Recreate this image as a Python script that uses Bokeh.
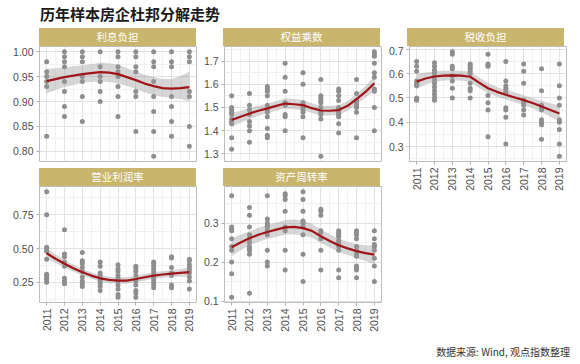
from math import pi
from bokeh.plotting import figure
from bokeh.models import Div, FixedTicker, Range1d, NumeralTickFormatter
from bokeh.layouts import column, row
from bokeh.embed import file_html
from bokeh.resources import INLINE

TITLE = "历年样本房企杜邦分解走势"
SOURCE = "数据来源: Wind, 观点指数整理"
PANEL_NAMES = ["利息负担", "权益乘数", "税收负担", "营业利润率", "资产周转率"]

YEARS = [2011, 2012, 2013, 2014, 2015, 2016, 2017, 2018, 2019]
FIT_X = [2011.0, 2011.5, 2012.0, 2012.5, 2013.0, 2013.5, 2014.0, 2014.5, 2015.0,
         2015.5, 2016.0, 2016.5, 2017.0, 2017.5, 2018.0, 2018.5, 2019.0]

# ---- 利息负担 ----
INTEREST_BURDEN = [
    [0.98, 0.96, 0.95, 0.94, 0.93, 0.83],
    [1.00, 0.99, 0.98, 0.97, 0.94, 0.92, 0.89, 0.87],
    [1.00, 0.99, 0.98, 0.95, 0.94, 0.91, 0.86],
    [1.00, 0.97, 0.95, 0.94, 0.92, 0.90],
    [1.00, 0.99, 0.97, 0.96, 0.95, 0.93, 0.91, 0.87],
    [1.00, 0.99, 0.97, 0.96, 0.92, 0.91, 0.84],
    [1.00, 0.98, 0.97, 0.94, 0.91, 0.88, 0.84, 0.79],
    [1.00, 0.98, 0.97, 0.91, 0.89, 0.86, 0.83],
    [1.00, 0.99, 0.98, 0.92, 0.91, 0.85, 0.81],
]
IB_FIT = [0.941, 0.945, 0.949, 0.952, 0.955, 0.957, 0.959, 0.958, 0.955,
          0.949, 0.943, 0.936, 0.931, 0.927, 0.926, 0.927, 0.929]
IB_LO = [0.916, 0.923, 0.929, 0.933, 0.937, 0.939, 0.940, 0.939, 0.936,
         0.931, 0.925, 0.918, 0.913, 0.909, 0.907, 0.905, 0.900]
IB_HI = [0.966, 0.967, 0.969, 0.971, 0.973, 0.975, 0.978, 0.977, 0.974,
         0.967, 0.961, 0.954, 0.949, 0.945, 0.945, 0.951, 0.960]
IB_TICKS = [0.80, 0.85, 0.90, 0.95, 1.00]
IB_MINOR = [0.775, 0.825, 0.875, 0.925, 0.975, 1.025]

# ---- 权益乘数 ----
EQUITY_MULT = [
    [1.55, 1.50, 1.49, 1.48, 1.47, 1.45, 1.44, 1.43, 1.37, 1.32],
    [1.56, 1.51, 1.49, 1.47, 1.44, 1.42, 1.40, 1.35],
    [1.59, 1.58, 1.57, 1.55, 1.51, 1.49, 1.48, 1.46, 1.41, 1.38, 1.37],
    [1.69, 1.63, 1.57, 1.52, 1.51, 1.47, 1.46, 1.40],
    [1.65, 1.60, 1.52, 1.51, 1.50, 1.49, 1.48, 1.46, 1.37],
    [1.62, 1.55, 1.54, 1.53, 1.52, 1.50, 1.48, 1.47, 1.45, 1.29],
    [1.58, 1.57, 1.55, 1.53, 1.50, 1.49, 1.48, 1.47, 1.46, 1.43, 1.39],
    [1.62, 1.56, 1.53, 1.52, 1.51, 1.50, 1.48, 1.37],
    [1.74, 1.73, 1.72, 1.69, 1.65, 1.63, 1.58, 1.57, 1.50, 1.40],
]
EM_FIT = [1.446, 1.460, 1.474, 1.486, 1.496, 1.507, 1.517, 1.514, 1.510,
          1.497, 1.487, 1.486, 1.489, 1.507, 1.536, 1.567, 1.604]
EM_LO = [1.416, 1.434, 1.450, 1.464, 1.475, 1.486, 1.495, 1.492, 1.488,
         1.476, 1.466, 1.465, 1.468, 1.486, 1.514, 1.542, 1.572]
EM_HI = [1.476, 1.486, 1.498, 1.508, 1.517, 1.528, 1.539, 1.536, 1.532,
         1.518, 1.508, 1.507, 1.510, 1.528, 1.558, 1.592, 1.636]
EM_TICKS = [1.3, 1.4, 1.5, 1.6, 1.7]
EM_MINOR = [1.25, 1.35, 1.45, 1.55, 1.65, 1.75]

# ---- 税收负担 ----
TAX_BURDEN = [
    [0.65, 0.63, 0.61, 0.57, 0.56, 0.555, 0.55, 0.50, 0.495, 0.49],
    [0.645, 0.63, 0.615, 0.605, 0.59, 0.575, 0.56, 0.545, 0.53, 0.515, 0.50, 0.49],
    [0.69, 0.68, 0.63, 0.62, 0.59, 0.57, 0.54, 0.50],
    [0.64, 0.635, 0.625, 0.62, 0.61, 0.60, 0.56, 0.54, 0.53, 0.50],
    [0.68, 0.64, 0.635, 0.63, 0.51, 0.48, 0.45, 0.34],
    [0.65, 0.57, 0.55, 0.54, 0.53, 0.52, 0.46, 0.45, 0.42, 0.31],
    [0.64, 0.61, 0.56, 0.49, 0.48, 0.47, 0.45, 0.43],
    [0.62, 0.53, 0.47, 0.46, 0.45, 0.41, 0.40, 0.39, 0.33],
    [0.64, 0.55, 0.50, 0.47, 0.41, 0.40, 0.37, 0.31, 0.26],
]
TB_FIT = [0.567, 0.580, 0.588, 0.592, 0.593, 0.592, 0.587, 0.563, 0.540,
          0.525, 0.513, 0.502, 0.491, 0.479, 0.465, 0.450, 0.436]
TB_LO = [0.537, 0.555, 0.566, 0.572, 0.573, 0.572, 0.566, 0.542, 0.519,
         0.505, 0.493, 0.482, 0.471, 0.458, 0.442, 0.423, 0.403]
TB_HI = [0.597, 0.605, 0.610, 0.612, 0.613, 0.612, 0.608, 0.584, 0.561,
         0.545, 0.533, 0.522, 0.511, 0.500, 0.488, 0.477, 0.469]
TB_TICKS = [0.3, 0.4, 0.5, 0.6, 0.7]
TB_MINOR = [0.25, 0.35, 0.45, 0.55, 0.65, 0.75]

# ---- 营业利润率 ----
OP_MARGIN = [
    [0.92, 0.75, 0.51, 0.50, 0.48, 0.42, 0.31, 0.30, 0.28, 0.27, 0.25],
    [0.64, 0.46, 0.44, 0.40, 0.37, 0.28, 0.26, 0.24],
    [0.47, 0.41, 0.39, 0.36, 0.33, 0.29, 0.26, 0.24, 0.22],
    [0.40, 0.37, 0.32, 0.30, 0.28, 0.26, 0.24, 0.22, 0.19],
    [0.38, 0.35, 0.33, 0.30, 0.28, 0.26, 0.23, 0.20, 0.16, 0.14],
    [0.37, 0.35, 0.33, 0.30, 0.26, 0.23, 0.19, 0.17, 0.14],
    [0.40, 0.39, 0.37, 0.35, 0.33, 0.31, 0.29, 0.27, 0.25, 0.23, 0.21],
    [0.44, 0.43, 0.36, 0.32, 0.30, 0.23, 0.21],
    [0.42, 0.41, 0.38, 0.36, 0.34, 0.32, 0.29, 0.26, 0.20],
]
OM_FIT = [0.465, 0.425, 0.388, 0.355, 0.325, 0.300, 0.280, 0.268, 0.263,
          0.263, 0.275, 0.288, 0.300, 0.308, 0.315, 0.320, 0.325]
OM_LO = [0.425, 0.393, 0.360, 0.330, 0.301, 0.276, 0.256, 0.244, 0.239,
         0.239, 0.251, 0.264, 0.276, 0.284, 0.290, 0.292, 0.290]
OM_HI = [0.505, 0.457, 0.416, 0.380, 0.349, 0.324, 0.304, 0.292, 0.287,
         0.287, 0.299, 0.312, 0.324, 0.332, 0.340, 0.348, 0.360]
OM_TICKS = [0.25, 0.50, 0.75]
OM_MINOR = [0.125, 0.375, 0.625, 0.875]

# ---- 资产周转率 ----
ASSET_TURNOVER = [
    [0.37, 0.29, 0.285, 0.28, 0.26, 0.24, 0.23, 0.20, 0.17, 0.11],
    [0.34, 0.32, 0.29, 0.27, 0.26, 0.25, 0.24, 0.235, 0.23, 0.22, 0.12],
    [0.37, 0.31, 0.30, 0.295, 0.29, 0.28, 0.27, 0.23, 0.20, 0.19],
    [0.375, 0.37, 0.36, 0.33, 0.29, 0.28, 0.23, 0.18],
    [0.38, 0.36, 0.33, 0.305, 0.30, 0.29, 0.27, 0.22, 0.15],
    [0.335, 0.33, 0.32, 0.28, 0.275, 0.26, 0.23, 0.18],
    [0.28, 0.275, 0.27, 0.265, 0.255, 0.25, 0.245, 0.24, 0.23, 0.18, 0.16],
    [0.28, 0.275, 0.27, 0.26, 0.24, 0.23, 0.22, 0.215, 0.19, 0.185, 0.18, 0.16],
    [0.28, 0.26, 0.245, 0.24, 0.23, 0.21, 0.19, 0.15],
]
AT_FIT = [0.238, 0.250, 0.261, 0.270, 0.277, 0.283, 0.289, 0.290, 0.287,
          0.280, 0.266, 0.254, 0.243, 0.235, 0.228, 0.223, 0.219]
AT_LO = [0.215, 0.230, 0.243, 0.252, 0.259, 0.265, 0.270, 0.271, 0.268,
         0.262, 0.249, 0.237, 0.226, 0.218, 0.210, 0.203, 0.195]
AT_HI = [0.261, 0.270, 0.279, 0.288, 0.295, 0.301, 0.308, 0.309, 0.306,
         0.298, 0.283, 0.271, 0.260, 0.252, 0.246, 0.243, 0.243]
AT_TICKS = [0.1, 0.2, 0.3]
AT_MINOR = [0.15, 0.25, 0.35]

STRIP_COLOR = "#C9B56B"
POINT_COLOR = "#8E8E8E"
LINE_COLOR = "#A0151A"
CJK = "Noto Sans CJK SC"
LATIN = "Liberation Sans"

FRAME_W = 157
X_MINOR = [y + 0.5 for y in YEARS[:-1]]


def panel(values, fit, lo, hi, ticks, minor, fmt, frame_h, left, bottom, show_x):
    xs, ys = [], []
    for yr, vals in zip(YEARS, values):
        xs += [yr] * len(vals)
        ys += vals
    allv = ys + lo + hi
    vmin, vmax = min(allv), max(allv)
    pad = 0.05 * (vmax - vmin)
    xpad = 0.05 * (YEARS[-1] - YEARS[0])
    p = figure(frame_width=FRAME_W, frame_height=frame_h,
               min_border_left=left, min_border_right=4,
               min_border_top=0, min_border_bottom=bottom,
               x_range=Range1d(YEARS[0] - xpad, YEARS[-1] + xpad),
               y_range=Range1d(vmin - pad, vmax + pad),
               output_backend="svg", toolbar_location=None)
    p.background_fill_color = "white"
    p.border_fill_color = "white"
    p.outline_line_color = "#BDBDBD"
    p.outline_line_width = 1

    xt = FixedTicker(ticks=YEARS, minor_ticks=X_MINOR)
    yt = FixedTicker(ticks=ticks, minor_ticks=minor)
    p.xaxis.ticker = xt
    p.yaxis.ticker = yt
    p.xgrid.ticker = xt
    p.ygrid.ticker = yt
    p.grid.grid_line_color = "#E2E2E2"
    p.grid.grid_line_width = 1
    p.grid.minor_grid_line_color = "#F1F1F1"
    p.grid.minor_grid_line_width = 1

    p.xaxis.formatter = NumeralTickFormatter(format="0")
    p.yaxis.formatter = NumeralTickFormatter(format=fmt)
    p.xaxis.major_label_orientation = pi / 2
    p.axis.axis_line_color = None
    p.axis.minor_tick_line_color = None
    p.axis.major_tick_line_color = "#B0B0B0"
    p.axis.major_tick_in = 0
    p.axis.major_tick_out = 3
    p.axis.major_label_standoff = 2
    p.axis.major_label_text_font = LATIN
    p.axis.major_label_text_font_size = "10.5px"
    p.axis.major_label_text_color = "#4D4D4D"
    p.xaxis.visible = show_x

    p.scatter(xs, ys, size=5, color=POINT_COLOR, line_color=None)
    p.varea(x=FIT_X, y1=lo, y2=hi, fill_color="#999999", fill_alpha=0.4)
    p.line(FIT_X, fit, line_color=LINE_COLOR, line_width=2.2)
    return p


def strip(text, left):
    return Div(text=text, width=FRAME_W, height=18, margin=(0, 0, 0, left),
               styles={"background-color": STRIP_COLOR, "color": "white",
                       "text-align": "center", "font-size": "10.5px",
                       "line-height": "18px", "font-family": CJK})


L1, L2, L3 = 31, 23, 22
p1 = panel(INTEREST_BURDEN, IB_FIT, IB_LO, IB_HI, IB_TICKS, IB_MINOR, "0.00", 115, L1, 7, False)
p2 = panel(EQUITY_MULT, EM_FIT, EM_LO, EM_HI, EM_TICKS, EM_MINOR, "0.0", 115, L2, 7, False)
p3 = panel(TAX_BURDEN, TB_FIT, TB_LO, TB_HI, TB_TICKS, TB_MINOR, "0.0", 115, L3, 33, True)
p4 = panel(OP_MARGIN, OM_FIT, OM_LO, OM_HI, OM_TICKS, OM_MINOR, "0.00", 116, L1, 33, True)
p5 = panel(ASSET_TURNOVER, AT_FIT, AT_LO, AT_HI, AT_TICKS, AT_MINOR, "0.0", 116, L2, 33, True)

col1 = column(strip(PANEL_NAMES[0], L1), p1, strip(PANEL_NAMES[3], L1), p4, spacing=0)
col2 = column(strip(PANEL_NAMES[1], L2), p2, strip(PANEL_NAMES[4], L2), p5, spacing=0)
col3 = column(strip(PANEL_NAMES[2], L3), p3, spacing=0)

title = Div(text=TITLE, width=520, height=20, margin=(0, 0, 0, 32),
            styles={"font-size": "15px", "font-weight": "bold", "color": "#1A1A1A",
                    "line-height": "12px", "font-family": CJK})
footer = Div(text=SOURCE, width=562, height=16, margin=(9, 0, 0, 0),
             styles={"font-size": "10px", "color": "#333333", "text-align": "right",
                     "line-height": "16px", "font-family": CJK})

layout = column(title, row(col1, col2, col3, spacing=0), footer, spacing=0,
                margin=(8, 0, 0, 8))

open("out.html", "w").write(file_html(layout, INLINE))
